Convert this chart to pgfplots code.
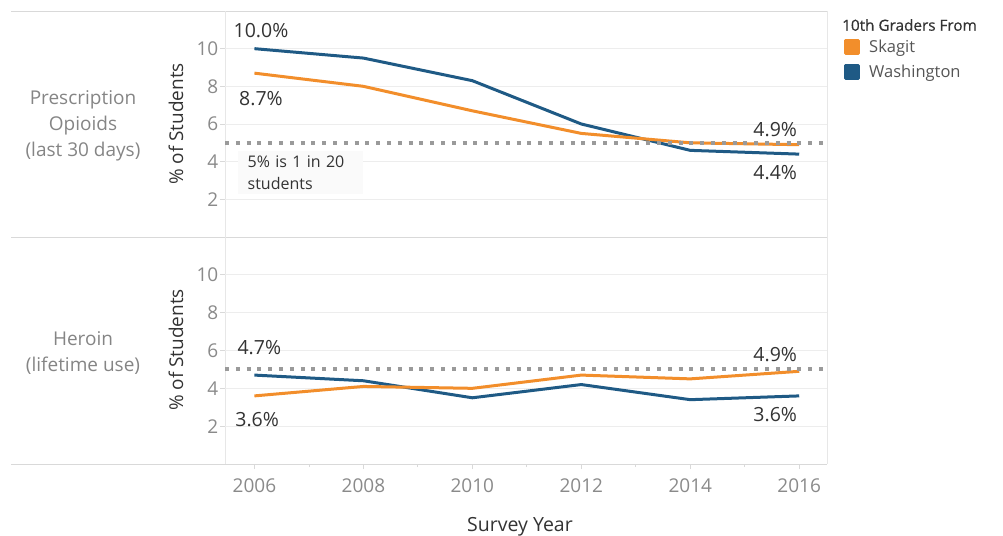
\documentclass[border=0pt]{standalone}
\usepackage{fontspec}
\setmainfont{Open Sans}
\newfontfamily\medfont[FakeBold=0.5]{Open Sans}
\usepackage{pgfplots}
\usepackage{pgfplotstable}
\pgfplotsset{compat=1.18}

\definecolor{skagit}{HTML}{F28E2B}
\definecolor{wash}{HTML}{1F5A85}
\definecolor{tickgray}{HTML}{8A8A8A}
\definecolor{rowgray}{HTML}{858585}
\definecolor{txt}{HTML}{333333}
\definecolor{legtxt}{HTML}{555555}
\definecolor{gridc}{HTML}{EDEDED}
\definecolor{framec}{HTML}{D9D9D9}
\definecolor{refgray}{HTML}{9A9A9A}
\definecolor{notebg}{HTML}{FAFAFA}

% 10th graders, % of students
\pgfplotstableread{
year skagit wash
2006 8.7 10.0
2008 8.0 9.5
2010 6.7 8.3
2012 5.5 6.0
2014 5.0 4.6
2016 4.9 4.4
}\opioids
\pgfplotstableread{
year skagit wash
2006 3.6 4.7
2008 4.1 4.4
2010 4.0 3.5
2012 4.7 4.2
2014 4.5 3.4
2016 4.9 3.6
}\heroin

\pgfplotsset{
  panel/.style={
    scale only axis,
    width=602pt,
    xmin=2005.46, xmax=2016.51,
    ymin=0, ymax=12,
    axis line style={draw=none},
    ytick={2,4,6,8,10},
    ymajorgrids,
    grid style={gridc, line width=0.8pt},
    tick align=outside,
    ytick pos=left,
    major tick length=5pt,
    minor tick length=3pt,
    tick style={framec, line width=0.8pt},
    /pgf/number format/assume math mode=true,
    /pgf/number format/1000 sep={},
    yticklabel style={font=\fontsize{19}{19}\selectfont, text=tickgray, inner sep=1.5pt},
    xticklabel style={font=\fontsize{19}{19}\selectfont, text=tickgray},
    clip=false,
  },
}
\tikzset{dlabel/.style={font=\fontsize{19.5}{19.5}\selectfont, text=txt, inner sep=0pt}}

\begin{document}
\begin{tikzpicture}
\useasboundingbox (0,0) rectangle (1003pt,535pt);

% frame lines of the two panels
\draw[framec, line width=0.9pt] (11pt,524pt) -- (827pt,524pt);
\draw[framec, line width=0.9pt] (11pt,298pt) -- (827pt,298pt);
\draw[framec, line width=0.9pt] (11pt,71pt) -- (827pt,71pt);
\draw[gridc!70!framec, line width=0.9pt] (225pt,71pt) -- (225pt,524pt);
\draw[gridc!70!framec, line width=0.9pt] (827pt,71pt) -- (827pt,524pt);

% top panel: prescription opioids
\begin{axis}[panel, height=226pt, at={(225pt,298pt)}, anchor=south west,
  xtick=\empty,
  reverse legend,
  legend style={at={(rel axis cs:1,1)}, anchor=north west, xshift=17pt, yshift=-28pt,
    draw=none, fill=none, inner sep=0pt, row sep=9pt,
    font=\fontsize{16.5}{16.5}\selectfont, text=legtxt,
    nodes={inner sep=0pt, anchor=west}},
  legend cell align=left,
  legend image code/.code={\fill[#1] (0pt,-6.5pt) rectangle (13pt,6.5pt); \path (22pt,0pt);},
]
\addplot[wash, line width=3pt, line join=round] table[x=year, y=wash] {\opioids};
\addlegendentry{Washington}
\addplot[skagit, line width=3pt, line join=round] table[x=year, y=skagit] {\opioids};
\addlegendentry{Skagit}
\addplot[refgray, line width=4pt, dash pattern=on 4pt off 6.8pt, forget plot] coordinates {(2005.46,5) (2016.51,5)};

\node[dlabel] at (axis cs:2006.12,10.98) {10.0\%};
\node[dlabel] at (axis cs:2006.12,7.37) {8.7\%};
\node[dlabel] at (axis cs:2015.56,5.73) {4.9\%};
\node[dlabel] at (axis cs:2015.56,3.41) {4.4\%};
\end{axis}

% bottom panel: heroin
\begin{axis}[panel, height=227pt, at={(225pt,71pt)}, anchor=south west,
  xtick={2006,2008,...,2016},
  minor xtick={2007,2009,...,2015},
  xtick pos=bottom,
  xticklabel style={yshift=-6pt},
]
\addplot[wash, line width=3pt, line join=round] table[x=year, y=wash] {\heroin};
\addplot[skagit, line width=3pt, line join=round] table[x=year, y=skagit] {\heroin};
\addplot[refgray, line width=4pt, dash pattern=on 4pt off 6.8pt] coordinates {(2005.46,5) (2016.51,5)};

\node[dlabel] at (axis cs:2006.09,6.14) {4.7\%};
\node[dlabel] at (axis cs:2006.05,2.37) {3.6\%};
\node[dlabel] at (axis cs:2015.56,5.78) {4.9\%};
\node[dlabel] at (axis cs:2015.56,2.63) {3.6\%};
\end{axis}

% note box on the 5% line
\node[fill=notebg, anchor=north west, minimum width=125pt, minimum height=43pt,
  text width=120pt, align=left, inner sep=0pt, text=txt,
  font=\fontsize{16}{22}\selectfont] at (238pt,384pt)
  {\hspace*{7pt}5\% is 1 in 20\\\hspace*{7pt}students};

% row headers
\node[text=rowgray, align=center, font=\fontsize{19}{26}\selectfont] at (83pt,409pt)
  {Prescription\\Opioids\\(last 30 days)};
\node[text=rowgray, align=center, font=\fontsize{19}{26}\selectfont] at (83pt,182pt)
  {Heroin\\(lifetime use)};

% axis titles
\node[rotate=90, text=txt, font=\fontsize{19}{19}\selectfont] at (176pt,411pt) {\% of Students};
\node[rotate=90, text=txt, font=\fontsize{19}{19}\selectfont] at (176pt,185pt) {\% of Students};
\node[anchor=base, text=txt, font=\fontsize{19.5}{19.5}\selectfont] at (520pt,4pt) {Survey Year};

% legend title
\node[anchor=west, text=txt, inner sep=0pt, font=\fontsize{15.3}{15.3}\medfont] at (842pt,510pt) {10th Graders From};
\end{tikzpicture}
\end{document}
